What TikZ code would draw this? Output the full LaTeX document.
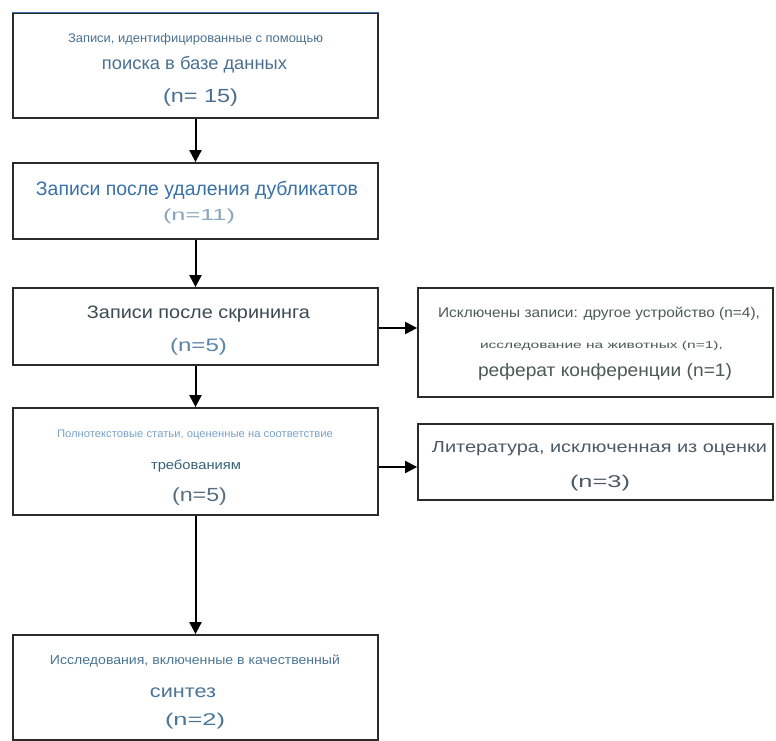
\documentclass[tikz,border=0pt]{standalone}
\usepackage{fontspec}
\setmainfont{Liberation Sans}
\usepackage{graphicx}
\usetikzlibrary{arrows.meta}
\definecolor{boxline}{HTML}{2B2B2B}
\definecolor{cA}{HTML}{4A7091}
\definecolor{cB}{HTML}{3A72A8}
\definecolor{cBl}{HTML}{8AA5BF}
\definecolor{cC}{HTML}{3C4A52}
\definecolor{cCl}{HTML}{5B86AA}
\definecolor{cR}{HTML}{4B5A55}
\definecolor{cDl}{HTML}{7AA3C8}
\definecolor{cDd}{HTML}{35607A}
\definecolor{cDg}{HTML}{5A6F80}
\definecolor{cS}{HTML}{4D5A66}
\definecolor{cE}{HTML}{4A7595}
\definecolor{topblue}{HTML}{3A6EA5}
\newcommand\fitline[4]{\textcolor{#3}{\resizebox{#1pt}{\height}{\fontsize{#2}{#2}\selectfont #4}}}
\tikzset{
  box/.style={draw=boxline, line width=1.8pt, fill=white, inner sep=0pt},
  txt/.style={inner sep=0pt, anchor=base},
  arr/.style={line width=2pt, draw=black, -{Triangle[width=12pt,length=12pt]}}
}
\begin{document}
\begin{tikzpicture}[x=1pt,y=-1pt]
\useasboundingbox (0,0) rectangle (776,741);
% main column boxes
\node[box, minimum width=365pt, minimum height=105pt] (b1) at (195.5,65.5) {};
\node[box, minimum width=365pt, minimum height=76pt]  (b2) at (195.5,201) {};
\node[box, minimum width=365pt, minimum height=77pt]  (b3) at (195.5,326.5) {};
\node[box, minimum width=365pt, minimum height=107pt] (b4) at (195.5,461.5) {};
\node[box, minimum width=365pt, minimum height=105pt] (b5) at (195.5,687.5) {};
% right boxes
\node[box, minimum width=355pt, minimum height=109pt] (r1) at (595.5,342.5) {};
\node[box, minimum width=355pt, minimum height=76pt]  (r2) at (595.5,462) {};
\draw[topblue, line width=1.4pt] ([yshift=-0.4pt]b1.north west) -- ([yshift=-0.4pt]b1.north east);
% texts box 1
\node[txt] (t1a) at (195.5,43) {\fitline{255}{12.5}{cA}{Записи, идентифицированные с помощью}};
\node[txt] (t1b) at (194.5,70) {\fitline{185}{18}{cA}{поиска в базе данных}};
\node[txt] (t1c) at (200.5,103) {\fitline{75}{19}{cA}{(n= 15)}};
% box 2
\node[txt] (t2a) at (197,195) {\fitline{322}{19.5}{cB}{Записи после удаления дубликатов}};
\node[txt] (t2b) at (199,220) {\fitline{72}{16}{cBl}{(n=11)}};
% box 3
\node[txt] (t3a) at (198.5,318) {\fitline{223}{18}{cC}{Записи после скрининга}};
\node[txt] (t3b) at (198.5,351) {\fitline{57}{18}{cCl}{(n=5)}};
% box 4
\node[txt] (t4a) at (195,437) {\fitline{276}{11}{cDl}{Полнотекстовые статьи, оцененные на соответствие}};
\node[txt] (t4b) at (196,469) {\fitline{90}{13}{cDd}{требованиям}};
\node[txt] (t4c) at (199.5,501) {\fitline{55}{19}{cDg}{(n=5)}};
% box 5
\node[txt] (t5a) at (195,664) {\fitline{290}{13}{cE}{Исследования, включенные в качественный}};
\node[txt] (t5b) at (183,697) {\fitline{66}{18}{cE}{синтез}};
\node[txt] (t5c) at (195,725) {\fitline{60}{17}{cE}{(n=2)}};
% right 1
\node[txt] (r1a) at (599,317) {\fitline{322}{14}{cR}{Исключены записи: другое устройство (n=4),}};
\node[txt] (r1b) at (601.5,348) {\fitline{243}{10}{cR}{исследование на животных (n=1),}};
\node[txt] (r1c) at (605,376) {\fitline{254}{18}{cR}{реферат конференции (n=1)}};
% right 2
\node[txt] (r2a) at (599.5,452) {\fitline{335}{16}{cS}{Литература, исключенная из оценки}};
\node[txt] (r2b) at (600,487) {\fitline{60}{17}{cS}{(n=3)}};
% connectors
\draw[arr] (b1.south) -- (b2.north);
\draw[arr] (b2.south) -- (b3.north);
\draw[arr] (b3.south) -- (b4.north);
\draw[arr] (b4.south) -- (b5.north);
\draw[arr] ([yshift=-1.5pt]b3.east) -- ([yshift=-1.5pt]b3.east -| r1.west);
\draw[arr] ([yshift=-5.5pt]b4.east) -- ([yshift=-5.5pt]b4.east -| r2.west);
\end{tikzpicture}
\end{document}
